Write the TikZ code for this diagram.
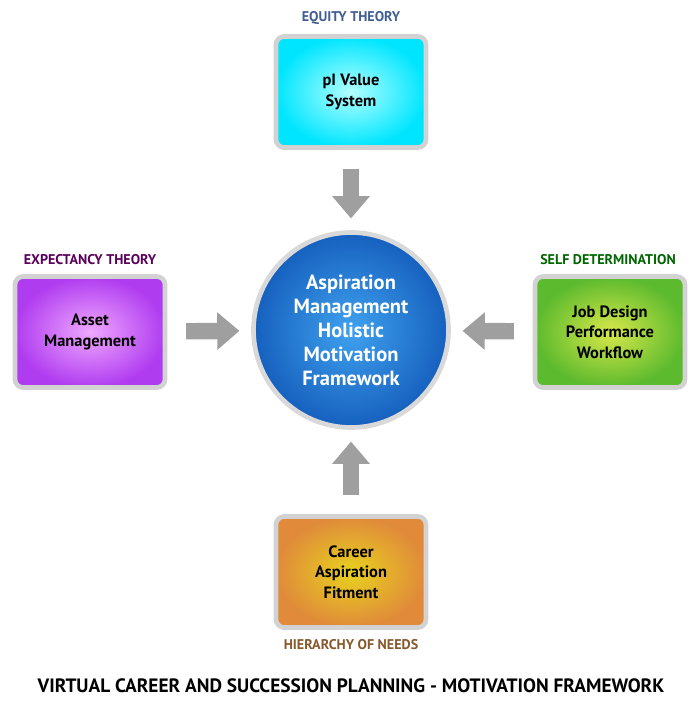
\documentclass[tikz,border=0pt]{standalone}
\usepackage{fontspec}
\setmainfont{PT Sans}
\usetikzlibrary{arrows.meta,positioning}
\definecolor{violetin}{HTML}{EFA8FF}
\definecolor{violetout}{HTML}{B03CF0}
\definecolor{greenin}{HTML}{D8E84A}
\definecolor{greenout}{HTML}{5CBA2E}
\definecolor{orangein}{HTML}{E8D21E}
\definecolor{orangeout}{HTML}{E08A3A}
\definecolor{bluein}{HTML}{3FA2EE}
\definecolor{blueout}{HTML}{1660BE}

\begin{document}
\begin{tikzpicture}[
  x=0.03cm, y=-0.03cm,
  every node/.style={font=\bfseries},
  box/.style={
    draw=gray!35, line width=4pt, rounded corners=7pt,
    minimum width=4.5cm, minimum height=3.33cm,
    align=center, font=\fontsize{14}{17.5}\selectfont\bfseries
  },
  theory/.style={font=\fontsize{12}{14}\selectfont\bfseries},
  hub/.style={
    circle, draw=gray!30, line width=4pt, minimum size=5.85cm,
    align=center, text=white, inner color=bluein, outer color=blueout,
    font=\fontsize{17.5}{20.5}\selectfont\bfseries
  },
  blockarrow/.style={
    draw=gray!75, line width=14pt,
    -{Triangle[width=31pt,length=19pt]}
  }
]
\useasboundingbox (0,0) rectangle (700,720);

% Nodes
\node[hub] (hub) at (351,330) {Aspiration\\Management\\Holistic\\Motivation\\Framework};
\node[box, inner color=cyan!30, outer color=cyan!90!blue] (equity) at (351,92) {pI Value\\System};
\node[box, inner color=violetin, outer color=violetout] (expect) at (90,332) {Asset\\Management};
\node[box, inner color=greenin, outer color=greenout] (selfdet) at (610,332) {Job Design\\Performance\\Workflow};
\node[box, inner color=orangein, outer color=orangeout] (needs) at (351,572) {Career\\Aspiration\\Fitment};

% Labels
\node[theory, text=cyan!40!blue!70!black] (lequity) at (351,18) {EQUITY THEORY};
\node[theory, text=violet!70!black] (lexpect) at (90,260) {EXPECTANCY THEORY};
\node[theory, text=green!40!black] (lselfdet) at (608,260) {SELF DETERMINATION};
\node[theory, text=brown!70!black] (lneeds) at (351,645) {HIERARCHY OF NEEDS};
\node[font=\fontsize{16.5}{19}\selectfont\bfseries] (title) at (351,686) {VIRTUAL CAREER AND SUCCESSION PLANNING - MOTIVATION FRAMEWORK};

% Arrows
\draw[blockarrow, shorten <=16pt, shorten >=10pt] (equity) -- (hub);
\draw[blockarrow, shorten <=16pt, shorten >=10pt] (expect) -- (hub);
\draw[blockarrow, shorten <=16pt, shorten >=10pt] (selfdet) -- (hub);
\draw[blockarrow, shorten <=16pt, shorten >=10pt] (needs) -- (hub);
\end{tikzpicture}
\end{document}
